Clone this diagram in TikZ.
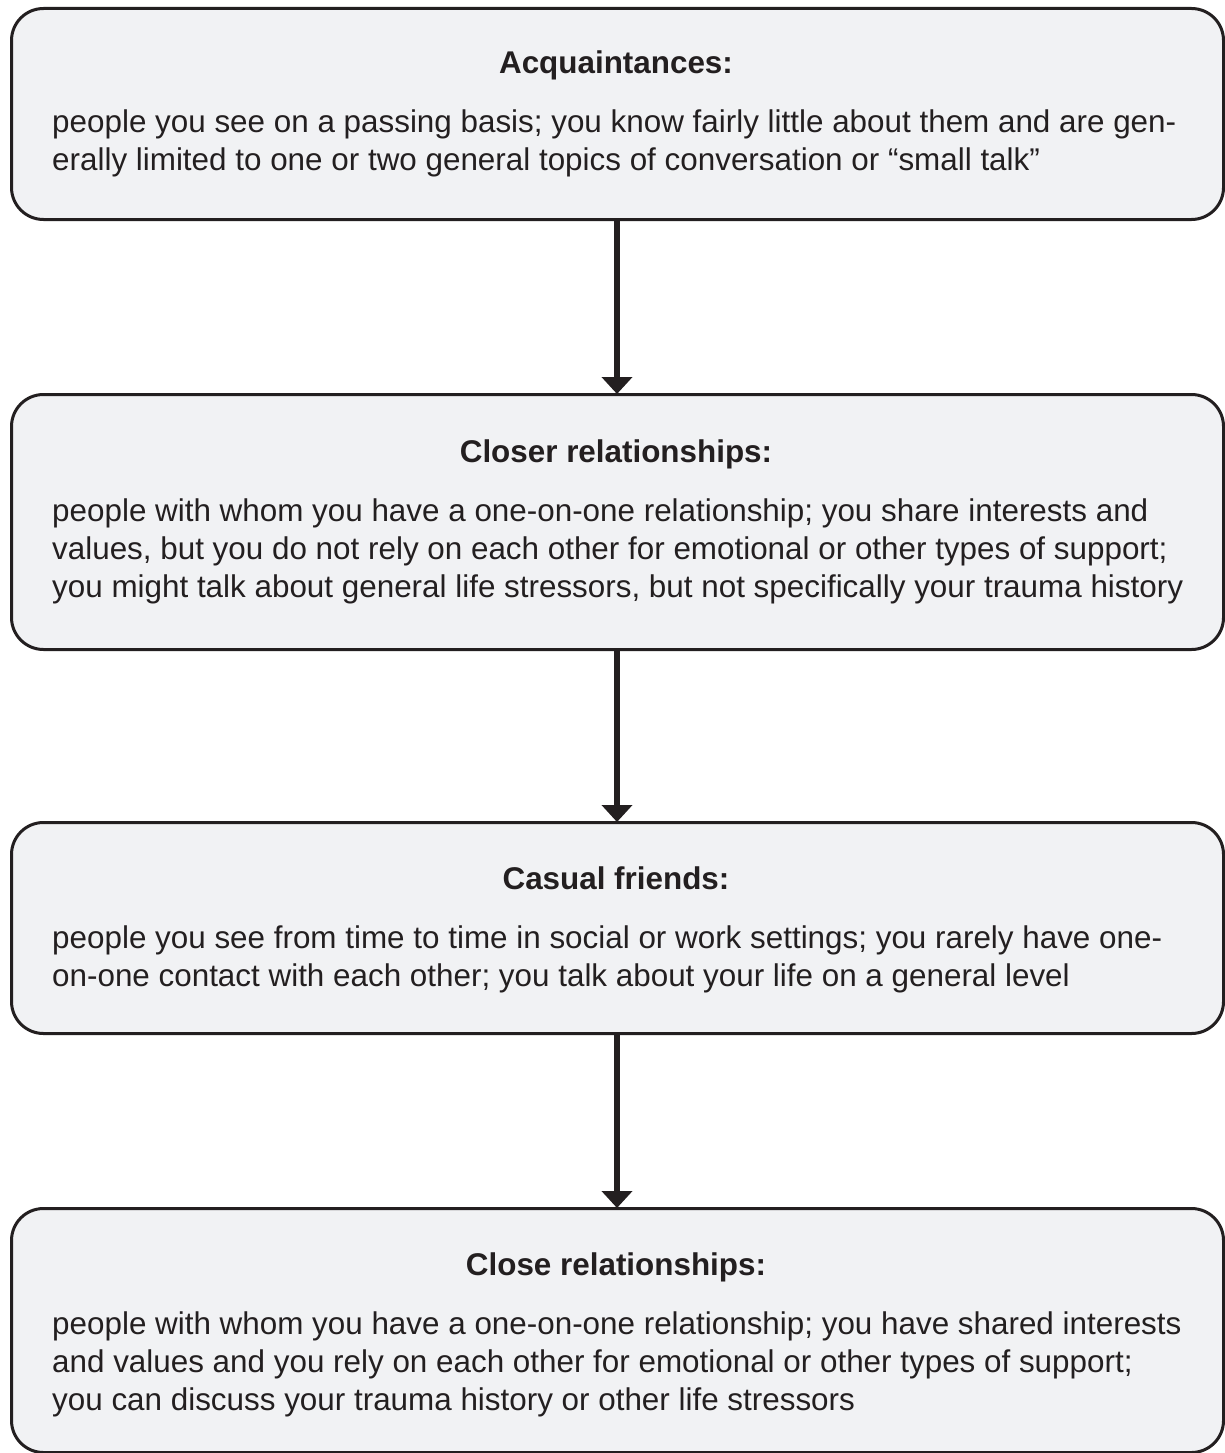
\documentclass[tikz,border=0pt]{standalone}
\usepackage{fontspec}
\setmainfont{Liberation Sans}
\usetikzlibrary{arrows.meta}
\definecolor{ink}{HTML}{231F20}
\definecolor{panel}{HTML}{F1F2F4}
\begin{document}
\begin{tikzpicture}[x=1pt,y=-1pt,
  panelbox/.style={draw=ink, fill=panel, line width=3pt, rounded corners=32pt},
  headtext/.style={anchor=base, inner sep=0pt, text=ink, font=\fontsize{31.4}{38}\selectfont\bfseries},
  bodytext/.style={anchor=base west, inner sep=0pt, text=ink, font=\fontsize{31.4}{38}\selectfont},
  flow/.style={draw=ink, line width=6pt, -{Triangle[width=30pt,length=17pt]}, shorten >=-1pt}]
\useasboundingbox (0,0) rectangle (1224,1453);
\newcommand{\bodylines}[1]{\parbox[t]{1160pt}{\raggedright\baselineskip=38pt #1}}

% stage panels
\node[panelbox, minimum width=1212pt, minimum height=211pt, anchor=north west] (b1) at (10,7) {};
\node[panelbox, minimum width=1212pt, minimum height=255pt, anchor=north west] (b2) at (10,393) {};
\node[panelbox, minimum width=1212pt, minimum height=211pt, anchor=north west] (b3) at (10,821) {};
\node[panelbox, minimum width=1212pt, minimum height=244pt, anchor=north west] (b4) at (10,1207) {};

% headings
\node[headtext] (h1) at (616,74) {Acquaintances:};
\node[headtext] (h2) at (616,462) {Closer relationships:};
\node[headtext] (h3) at (616,889) {Casual friends:};
\node[headtext] (h4) at (616,1275) {Close relationships:};

% descriptions
\node[bodytext] (t1) at (52,132) {\bodylines{people you see on a passing basis; you know fairly little about them and are gen-\\
erally limited to one or two general topics of conversation or “small talk”}};
\node[bodytext] (t2) at (52,521) {\bodylines{people with whom you have a one-on-one relationship; you share interests and\\
values, but you do not rely on each other for emotional or other types of support;\\
you might talk about general life stressors, but not specifically your trauma history}};
\node[bodytext] (t3) at (52,948) {\bodylines{people you see from time to time in social or work settings; you rarely have one-\\
on-one contact with each other; you talk about your life on a general level}};
\node[bodytext] (t4) at (52,1334) {\bodylines{people with whom you have a one-on-one relationship; you have shared interests\\
and values and you rely on each other for emotional or other types of support;\\
you can discuss your trauma history or other life stressors}};

% connectors
\draw[flow] (b1.south -| 617,0) -- (b2.north -| 617,0);
\draw[flow] (b2.south -| 617,0) -- (b3.north -| 617,0);
\draw[flow] (b3.south -| 617,0) -- (b4.north -| 617,0);
\end{tikzpicture}
\end{document}
